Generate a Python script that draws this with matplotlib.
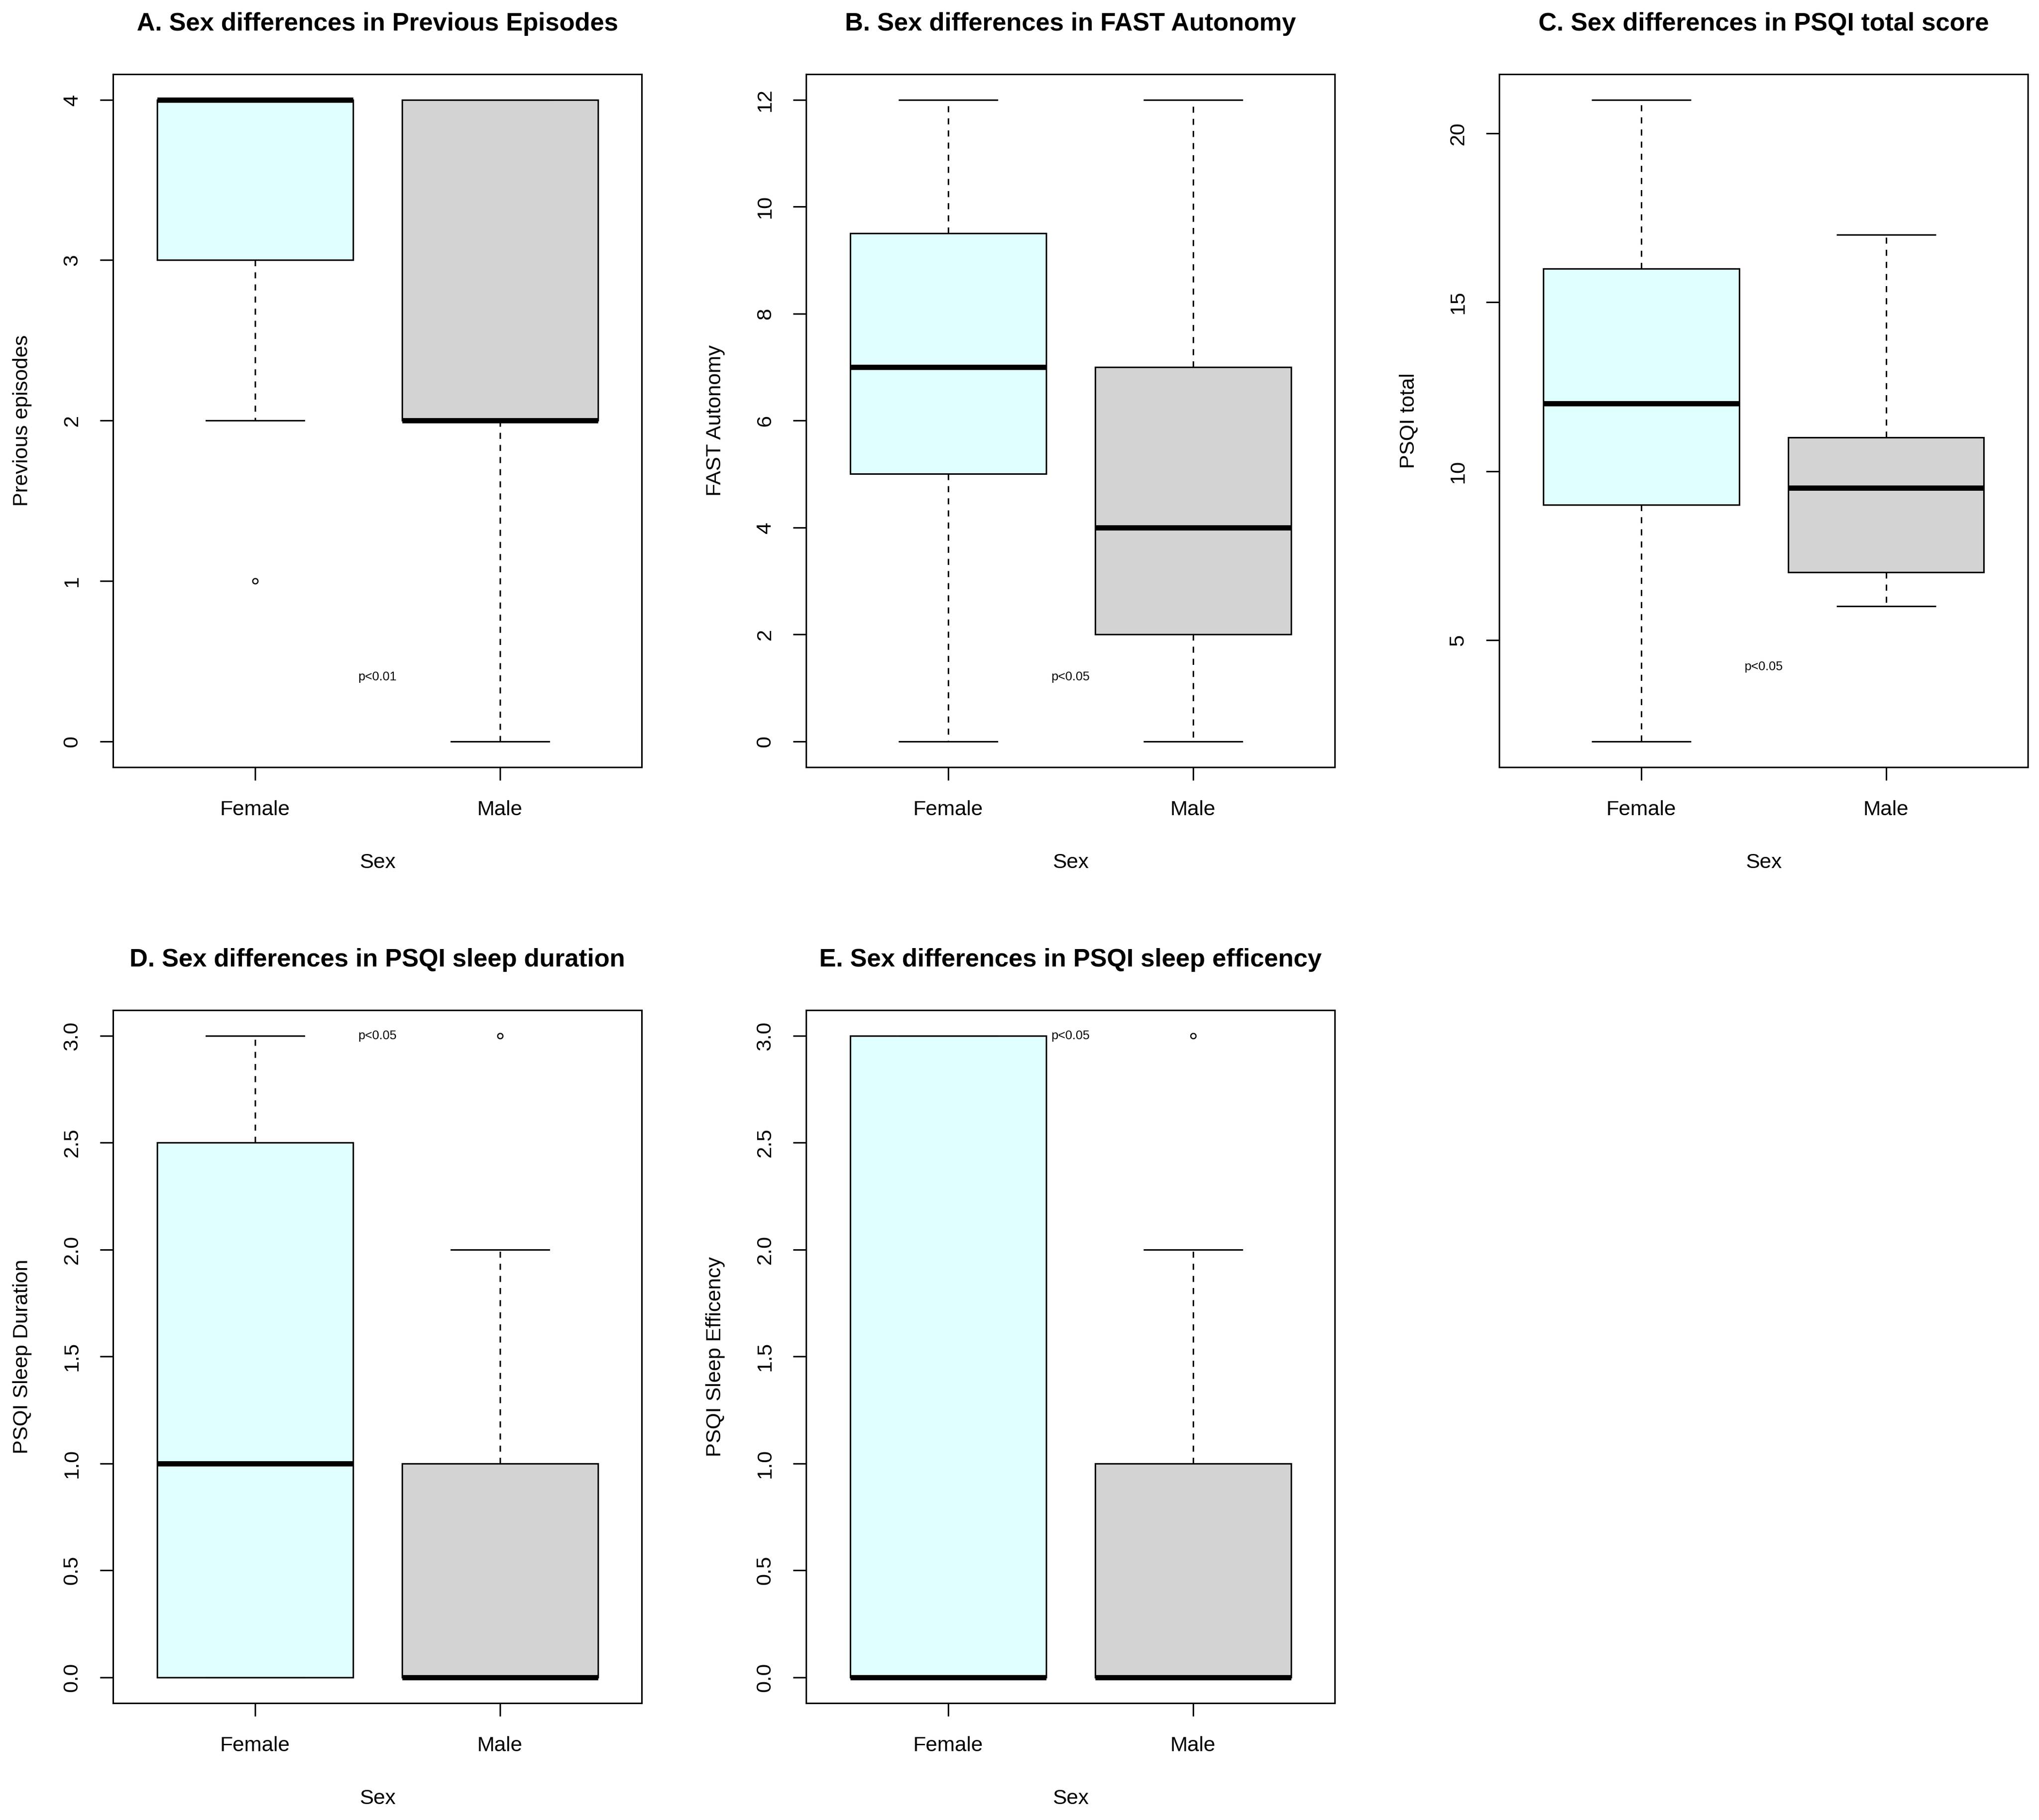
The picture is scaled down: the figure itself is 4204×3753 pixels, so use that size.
import numpy as np
import matplotlib
matplotlib.use("Agg")
import matplotlib.pyplot as plt

plt.rcParams['font.family'] = ['Liberation Sans', 'DejaVu Sans']

# data: whislo, q1, median, q3, whishi
titles = ["A. Sex differences in Previous Episodes",
          "B. Sex differences in FAST Autonomy",
          "C. Sex differences in PSQI total score",
          "D. Sex differences in PSQI sleep duration",
          "E. Sex differences in PSQI sleep efficency"]
ylabels = ["Previous episodes", "FAST Autonomy", "PSQI total",
           "PSQI Sleep Duration", "PSQI Sleep Efficency"]
groups = ["Female", "Male"]
female_box = [[2, 3, 4, 4, 4],
              [0, 5, 7, 9.5, 12],
              [2, 9, 12, 16, 21],
              [0, 0, 1, 2.5, 3],
              [0, 0, 0, 3, 3]]
male_box = [[0, 2, 2, 4, 4],
            [0, 2, 4, 7, 12],
            [6, 7, 9.5, 11, 17],
            [0, 0, 0, 1, 2],
            [0, 0, 0, 1, 2]]
female_out = [[1], [], [], [], []]
male_out = [[], [], [], [3], [3]]
p_text = ["p<0.01", "p<0.05", "p<0.05", "p<0.05", "p<0.05"]
p_x = [1.5, 1.5, 1.5, 1.5, 1.5]
p_y = [0.4, 1.2, 4.2, 3.0, 3.0]
yticks = [[0, 1, 2, 3, 4],
          [0, 2, 4, 6, 8, 10, 12],
          [5, 10, 15, 20],
          [0, 0.5, 1.0, 1.5, 2.0, 2.5, 3.0],
          [0, 0.5, 1.0, 1.5, 2.0, 2.5, 3.0]]
ytick_fmt = ["%d", "%d", "%d", "%.1f", "%.1f"]
colors = ["#E0FFFF", "#D3D3D3"]

fig = plt.figure(figsize=(4204 / 300, 3753 / 300), dpi=300)

lefts = [0.0555, 0.3954, 0.7353]
bottoms = [0.5786, 0.0643]
w, h = 0.2593, 0.3807

lw = 0.75
for i in range(5):
    r, c = divmod(i, 3)
    ax = fig.add_axes([lefts[c], bottoms[r], w, h])
    stats = []
    for box, out, name in [(female_box[i], female_out[i], groups[0]),
                           (male_box[i], male_out[i], groups[1])]:
        stats.append(dict(whislo=box[0], q1=box[1], med=box[2], q3=box[3],
                          whishi=box[4], fliers=out, label=name))
    res = ax.bxp(stats, positions=[1, 2], widths=0.8, capwidths=0.4,
                 patch_artist=True,
                 boxprops=dict(edgecolor="black", linewidth=lw),
                 whiskerprops=dict(color="black", linewidth=lw, linestyle=(0, (4, 4))),
                 capprops=dict(color="black", linewidth=lw),
                 medianprops=dict(color="black", linewidth=2.6, solid_capstyle="butt"),
                 flierprops=dict(marker="o", markerfacecolor="none",
                                 markeredgecolor="black", markersize=2.6,
                                 markeredgewidth=0.6))
    for patch, col in zip(res["boxes"], colors):
        patch.set_facecolor(col)

    allv = female_box[i] + male_box[i] + female_out[i] + male_out[i]
    lo, hi = min(allv), max(allv)
    pad = 0.04 * (hi - lo)
    ax.set_ylim(lo - pad, hi + pad)
    ax.set_xlim(0.42, 2.58)

    ax.set_yticks(yticks[i])
    ax.set_yticklabels([ytick_fmt[i] % v for v in yticks[i]], rotation=90,
                       va="center")
    ax.set_xticks([1, 2])
    ax.set_xticklabels(groups)
    ax.tick_params(axis="both", direction="out", length=6.5, width=lw,
                   labelsize=10.4)
    ax.tick_params(axis="x", pad=10)
    ax.tick_params(axis="y", pad=9)
    for s in ax.spines.values():
        s.set_linewidth(lw)

    ax.set_xlabel("Sex", fontsize=10.4, labelpad=16.5)
    ax.set_ylabel(ylabels[i], fontsize=10.4, labelpad=15)
    ax.set_title(titles[i], fontsize=12.5, fontweight="bold", pad=21.5)
    ax.text(p_x[i], p_y[i], p_text[i], fontsize=6.2, ha="center", va="center")

fig.savefig("out.png", dpi=300)
